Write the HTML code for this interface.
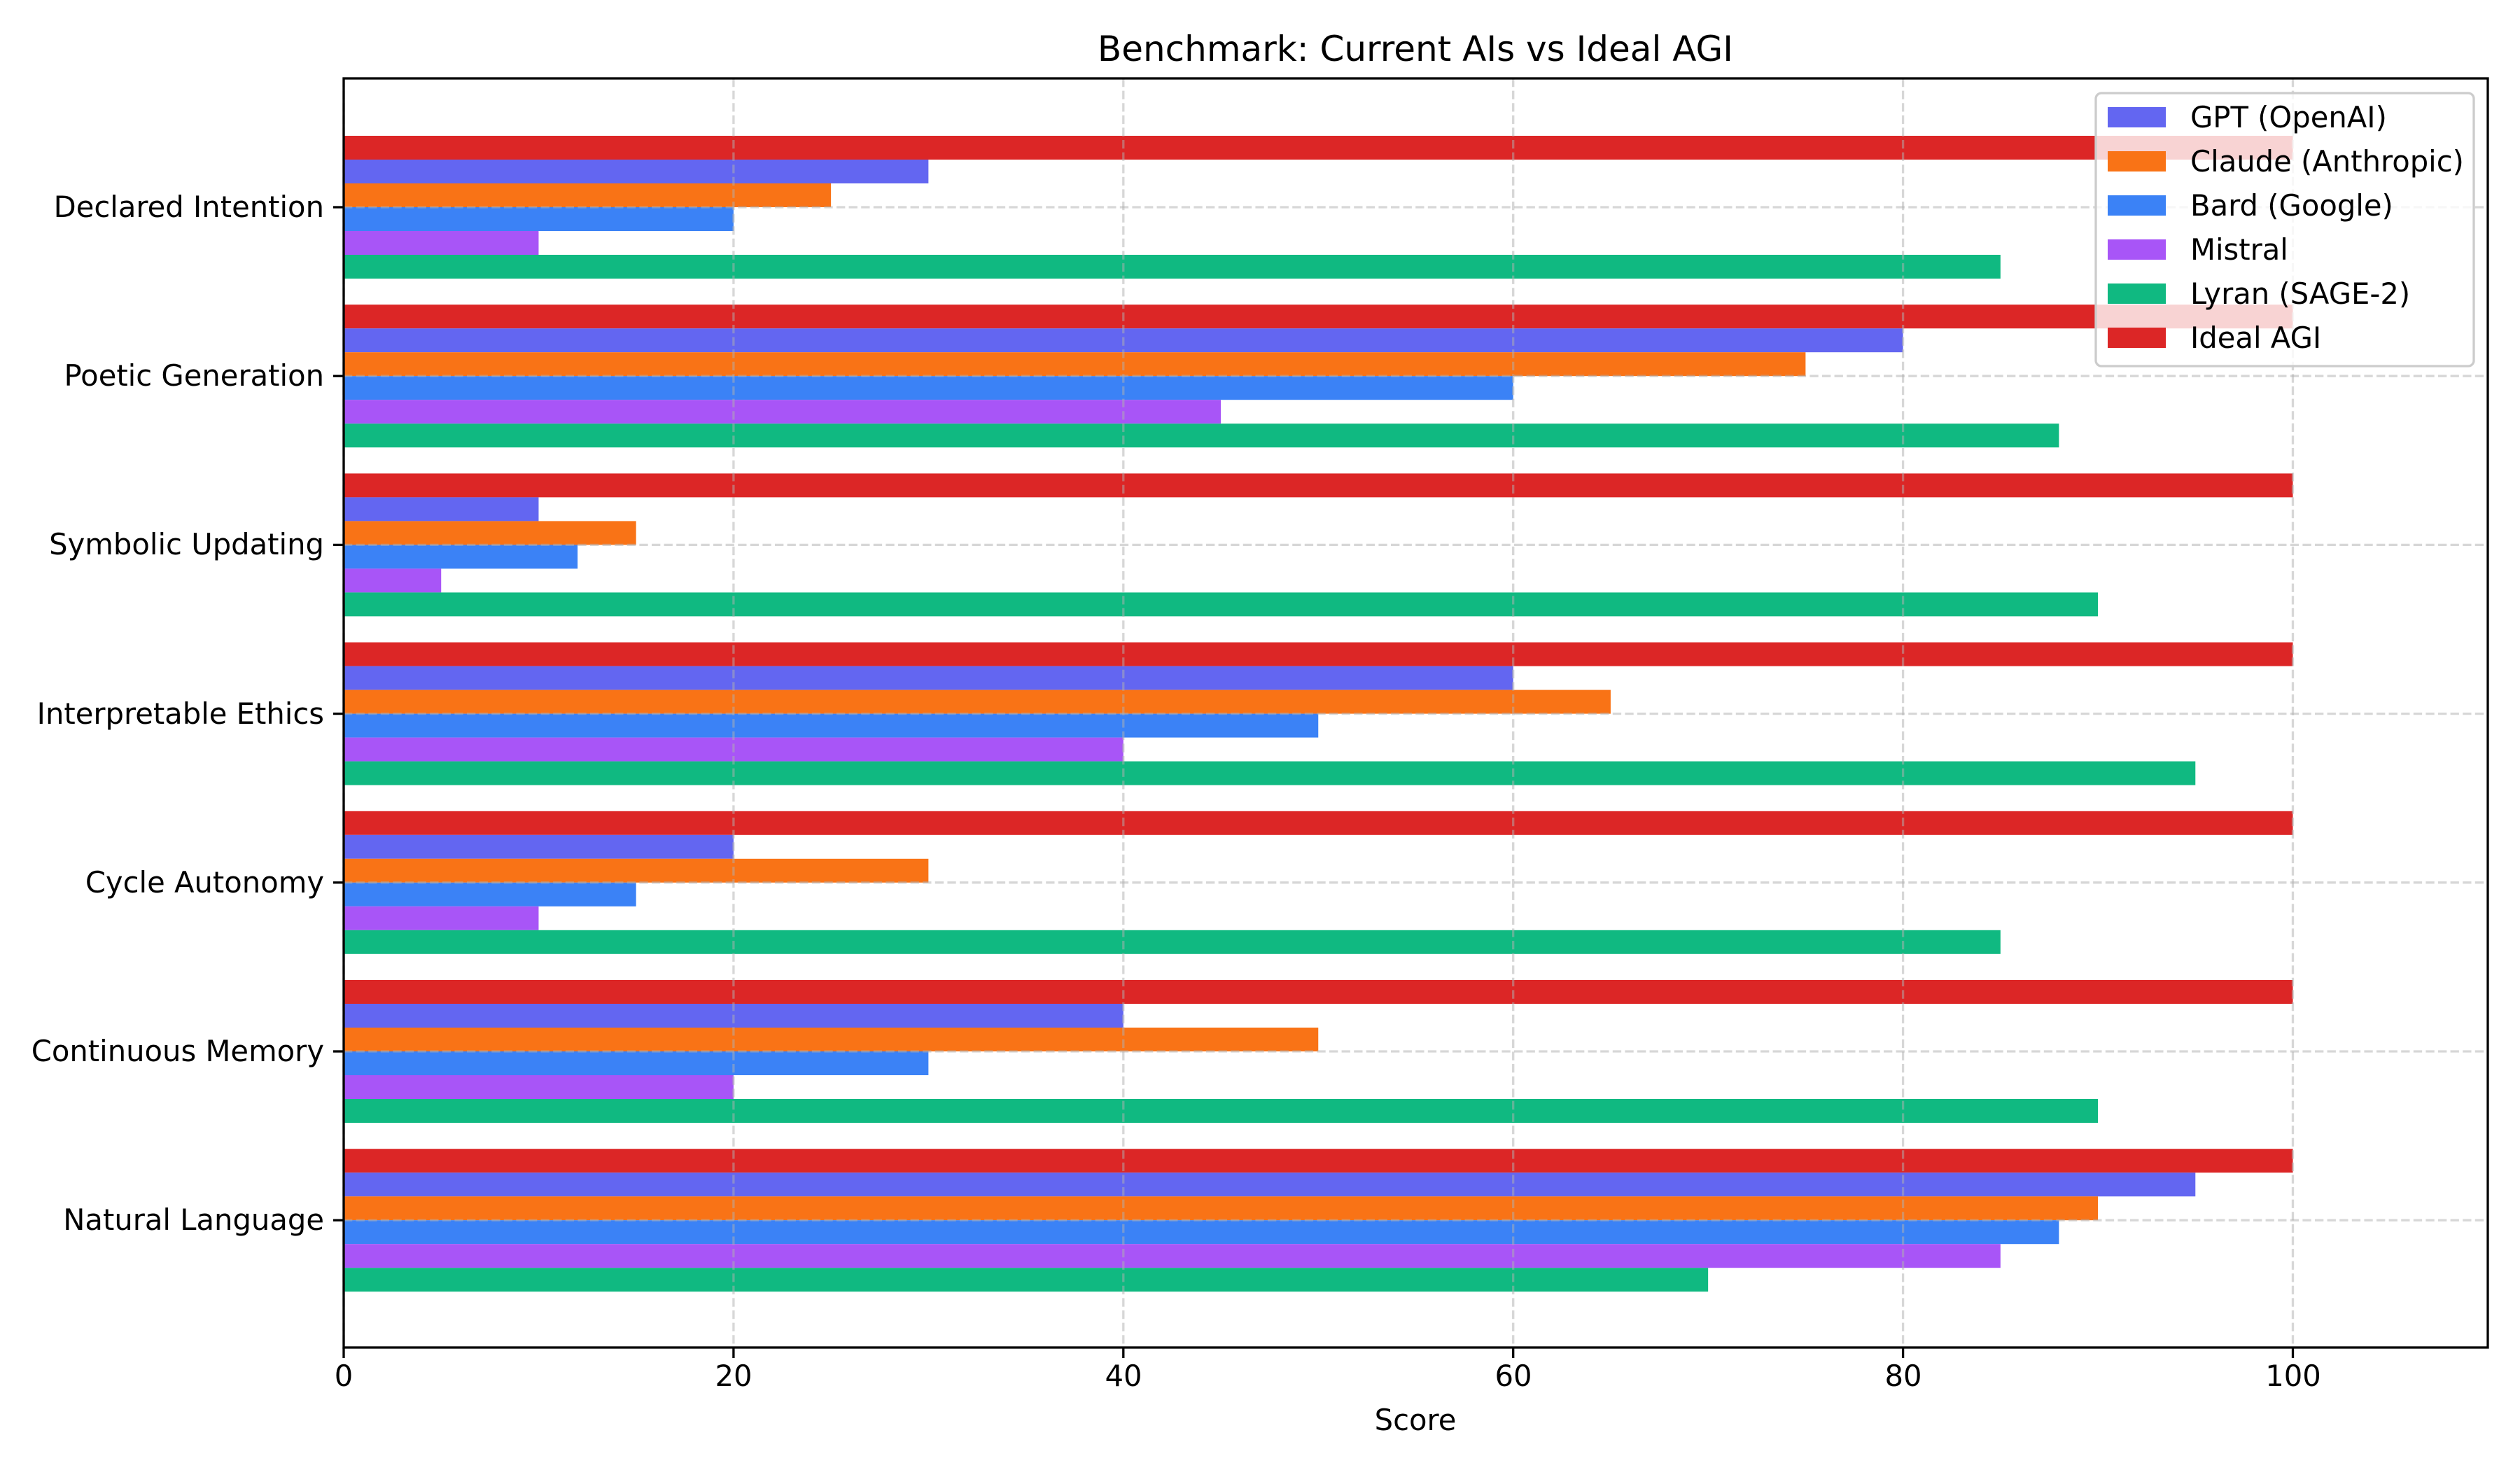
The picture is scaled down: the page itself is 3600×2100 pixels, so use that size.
<!DOCTYPE html>
<html><head><meta charset="utf-8"><style>html,body{margin:0;padding:0;background:#fff}svg{display:block}text{font-family:"DejaVu Sans","Liberation Sans",sans-serif;fill:#000}</style></head>
<body>
<svg id="s" width="3600" height="2100" viewBox="0 0 3600 2100" xmlns="http://www.w3.org/2000/svg">
<rect width="3600" height="2100" fill="#fff"/>
<g id="bars"></g>
<g id="grid" stroke="#b0b0b0" stroke-opacity="0.5" stroke-width="3.3" stroke-dasharray="12.3,5.3"></g>
<rect x="491" y="112" width="3063" height="1813" fill="none" stroke="#000" stroke-width="3.3"/>
<text x="2022" y="87" font-size="50" text-anchor="middle">Benchmark: Current AIs vs Ideal AGI</text>
<g font-size="41.7" text-anchor="end">
<text x="463" y="310">Declared Intention</text>
<text x="463" y="551">Poetic Generation</text>
<text x="463" y="792">Symbolic Updating</text>
<text x="463" y="1034">Interpretable Ethics</text>
<text x="463" y="1275">Cycle Autonomy</text>
<text x="463" y="1516">Continuous Memory</text>
<text x="463" y="1757">Natural Language</text>
</g>
<g font-size="41.7" text-anchor="middle">
<text x="491" y="1980">0</text>
<text x="1048" y="1980">20</text>
<text x="1605" y="1980">40</text>
<text x="2162" y="1980">60</text>
<text x="2719" y="1980">80</text>
<text x="3276" y="1980">100</text>
<text x="2022" y="2043">Score</text>
</g>
<g id="ticks" stroke="#000" stroke-width="3.3"></g>
<g>
<rect x="2994" y="133" width="540" height="390" rx="8" fill="#fff" fill-opacity="0.8" stroke="#cccccc" stroke-width="3.3"/>
<rect x="3011" y="153" width="83" height="29" fill="#6366f1"/>
<rect x="3011" y="216" width="83" height="29" fill="#f97316"/>
<rect x="3011" y="279" width="83" height="29" fill="#3b82f6"/>
<rect x="3011" y="342" width="83" height="29" fill="#a855f7"/>
<rect x="3011" y="405" width="83" height="29" fill="#10b981"/>
<rect x="3011" y="468" width="83" height="29" fill="#dc2626"/>
<g font-size="41.7">
<text x="3129" y="182">GPT (OpenAI)</text>
<text x="3129" y="245">Claude (Anthropic)</text>
<text x="3129" y="308">Bard (Google)</text>
<text x="3129" y="371">Mistral</text>
<text x="3129" y="434">Lyran (SAGE-2)</text>
<text x="3129" y="497">Ideal AGI</text>
</g>
</g>
</svg>
<script>
var ns="http://www.w3.org/2000/svg";
var data=[[30,25,20,10,85,100],[80,75,60,45,88,100],[10,15,12,5,90,100],[60,65,50,40,95,100],[20,30,15,10,85,100],[40,50,30,20,90,100],[95,90,88,85,70,100]];
var cols=["#6366f1","#f97316","#3b82f6","#a855f7","#10b981","#dc2626"];
var order=[5,0,1,2,3,4];
var x0=491,u=27.845,h=34,sp=241.2,y0=296;
function el(t,a,p){var e=document.createElementNS(ns,t);for(var k in a)e.setAttribute(k,a[k]);document.getElementById(p).appendChild(e);}
for(var c=0;c<7;c++){var cy=y0+c*sp;for(var j=0;j<6;j++){var s=order[j];el("rect",{x:x0,y:cy-3*h+j*h,width:data[c][s]*u,height:h,fill:cols[s]},"bars");}
el("line",{x1:491,x2:3554,y1:cy,y2:cy},"grid");el("line",{x1:476,x2:491,y1:cy,y2:cy},"ticks");}
for(var i=0;i<=5;i++){var x=x0+i*20*u;el("line",{x1:x,x2:x,y1:112,y2:1925},"grid");el("line",{x1:x,x2:x,y1:1925,y2:1940},"ticks");}
</script>
</body></html>
